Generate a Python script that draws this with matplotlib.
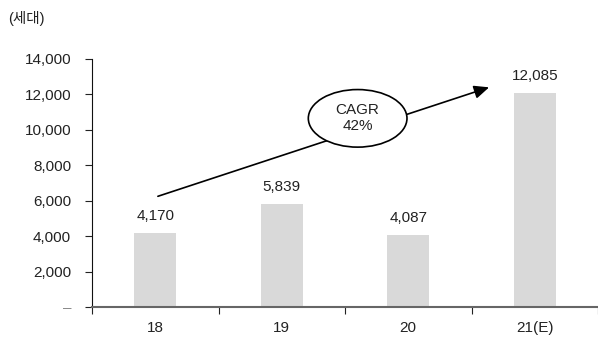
import matplotlib.pyplot as plt
from matplotlib.patches import Ellipse

plt.rcParams['font.family'] = ['Liberation Sans', 'Noto Sans CJK KR']

years = ['18', '19', '20', '21(E)']
households = [4170, 5839, 4087, 12085]
yticks = [0, 2000, 4000, 6000, 8000, 10000, 12000, 14000]

fig = plt.figure(figsize=(5.98, 3.38), dpi=100)
ax = fig.add_axes([92 / 598, (338 - 307) / 338, 1 - 92 / 598, (307 - 59) / 338])

x = range(len(years))
bars = ax.bar(x, households, width=0.33, color='#d9d9d9', zorder=2)
for xi, v in zip(x, households):
    ax.text(xi, v + 550, f'{v:,}', ha='center', va='bottom', fontsize=11, color='#222222')

ax.set_xlim(-0.5, len(years) - 0.5)
ax.set_ylim(0, 14000)
ax.set_yticks(yticks)
ax.set_yticklabels(['–'] + [f'{t:,}' for t in yticks[1:]], fontsize=11, color='#222222')
ax.get_yticklabels()[0].set_color('#888888')

ax.set_xticks([i - 0.5 for i in range(len(years) + 1)])
ax.set_xticklabels([])
ax.set_xticks(list(x), minor=True)
ax.set_xticklabels(years, minor=True, fontsize=11, color='#222222')
ax.tick_params(axis='x', which='minor', length=0, pad=10)
ax.tick_params(axis='x', which='major', direction='out', length=5, color='#222222')
ax.tick_params(axis='y', direction='out', length=5, color='#222222', pad=10)

ax.spines['top'].set_visible(False)
ax.spines['right'].set_visible(False)
ax.spines['left'].set_color('#111111')
ax.spines['bottom'].set_color('#666666')
ax.spines['bottom'].set_linewidth(1.5)

# CAGR arrow
ax.annotate('', xy=(2.66, 12450), xytext=(0.0, 6200),
            arrowprops=dict(arrowstyle='-|>,head_length=0.9,head_width=0.4',
                            color='black', lw=1.2), zorder=3)
ell = Ellipse((1.6, 10650), 0.78, 3250, facecolor='white', edgecolor='black', lw=1.2, zorder=4)
ax.add_patch(ell)
ax.text(1.6, 10650, 'CAGR\n42%', ha='center', va='center', fontsize=11,
        linespacing=1.2, color='#222222', zorder=5)

fig.text(8 / 598, 1 - 19 / 338, '(세대)', fontsize=10.5, va='center', ha='left', color='#222222')

fig.savefig('out.png', dpi=100)
